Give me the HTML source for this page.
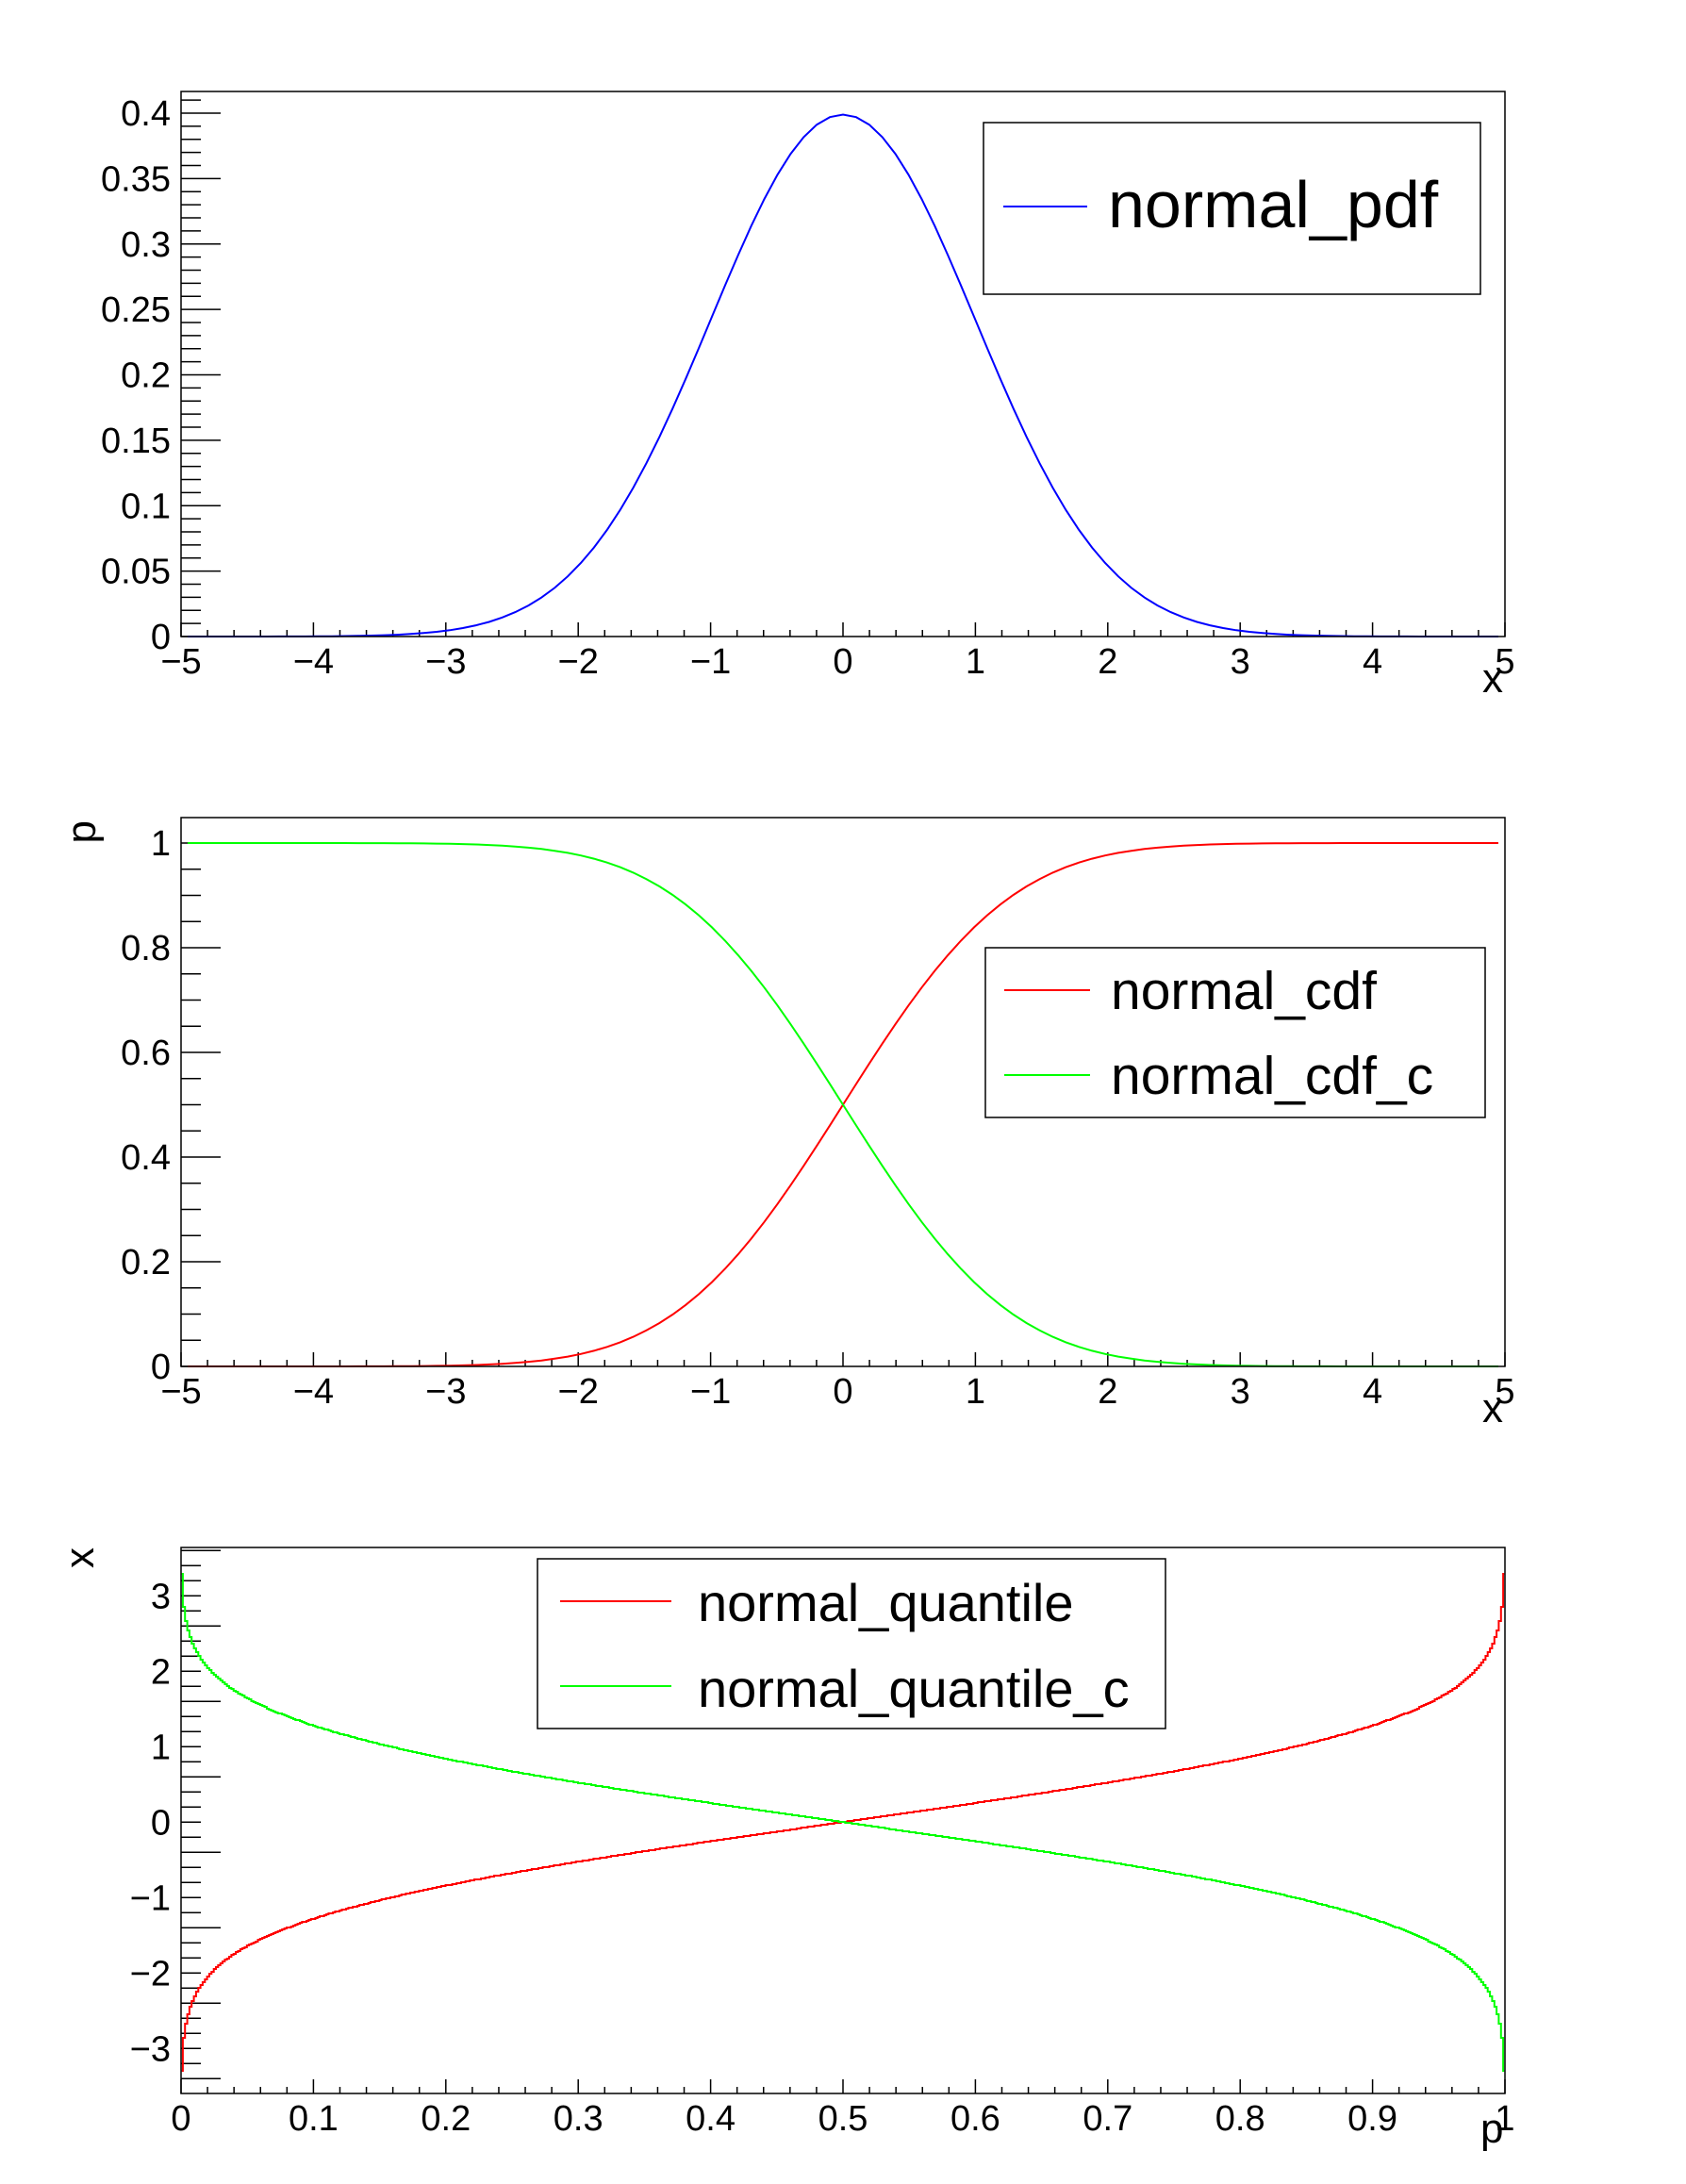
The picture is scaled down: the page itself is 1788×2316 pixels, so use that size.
<!DOCTYPE html>
<html><head><meta charset="utf-8">
<style>
html,body{margin:0;padding:0;background:#fff;}
svg{display:block;}
text{font-family:"Liberation Sans",Arial,sans-serif;fill:#000;}
</style></head>
<body>
<svg id="s" width="1788" height="2316" viewBox="0 0 1788 2316" xmlns="http://www.w3.org/2000/svg">
<rect width="1788" height="2316" fill="#fff"/>
<g id="g"></g>
<rect x="192" y="97" width="1404" height="578" fill="none" stroke="#000" stroke-width="1.5"/>
<rect x="192" y="867" width="1404" height="582" fill="none" stroke="#000" stroke-width="1.5"/>
<rect x="192" y="1641" width="1404" height="579" fill="none" stroke="#000" stroke-width="1.5"/>
<rect x="1043" y="130" width="527" height="182" fill="#fff" stroke="#000" stroke-width="1.5"/>
<line x1="1064" y1="219" x2="1153" y2="219" stroke="#0000ff" stroke-width="2"/>
<text x="1175" y="241" font-size="70">normal_pdf</text>

<rect x="1045" y="1005" width="530" height="180" fill="#fff" stroke="#000" stroke-width="1.5"/>
<line x1="1065" y1="1050" x2="1156" y2="1050" stroke="#ff0000" stroke-width="2"/>
<line x1="1065" y1="1140" x2="1156" y2="1140" stroke="#00ff00" stroke-width="2"/>
<text x="1178" y="1070" font-size="57">normal_cdf</text>
<text x="1178" y="1160" font-size="57">normal_cdf_c</text>

<rect x="570" y="1653" width="666" height="180" fill="#fff" stroke="#000" stroke-width="1.5"/>
<line x1="594" y1="1698" x2="712" y2="1698" stroke="#ff0000" stroke-width="2"/>
<line x1="594" y1="1788" x2="712" y2="1788" stroke="#00ff00" stroke-width="2"/>
<text x="740" y="1719" font-size="56">normal_quantile</text>
<text x="740" y="1810" font-size="56">normal_quantile_c</text>

<text x="1572" y="734" font-size="44">x</text>
<text x="1572" y="1508" font-size="44">x</text>
<text x="1570" y="2272" font-size="44">p</text>
<text transform="translate(101,870) rotate(-90)" font-size="44" text-anchor="end">p</text>
<text transform="translate(99,1641) rotate(-90)" font-size="44" text-anchor="end">x</text>
</svg>
<script>
(function(){
var g=document.getElementById('g'),NS='http://www.w3.org/2000/svg';
function el(t,a,txt){var e=document.createElementNS(NS,t);for(var k in a)e.setAttribute(k,a[k]);if(txt!==undefined)e.textContent=txt;g.appendChild(e);return e;}
function fmt(v){v=Math.round(v*1000)/1000;var s=String(Math.abs(v));return (v<0?'\u2212':'')+s;}
var X1=function(x){return 192+(x+5)*140.4;};
var X3=function(p){return 192+p*1404;};
function yaxis(Y,from,to,step,majEvery,labels){
  var n=Math.round((to-from)/step);
  for(var i=0;i<=n;i++){var v=from+i*step;var y=Y(v);var maj=(i%majEvery===0);
    el('line',{x1:192,y1:y,x2:192+(maj?42:21),y2:y,stroke:'#000','stroke-width':1.5});}
  labels.forEach(function(v){el('text',{x:181,y:Y(v)+13,'font-size':38,'text-anchor':'end'},fmt(v));});
}
function xaxis(X,yb,from,to,step,majEvery,labels){
  var n=Math.round((to-from)/step);
  for(var i=0;i<=n;i++){var v=from+i*step;var x=X(v);var maj=(i%majEvery===0);
    el('line',{x1:x,y1:yb,x2:x,y2:yb-(maj?15:7),stroke:'#000','stroke-width':1.5});}
  labels.forEach(function(v){el('text',{x:X(v),y:yb+39,'font-size':38,'text-anchor':'middle'},fmt(v));});
}
var Y1=function(v){return 675-v*1387.5;};
var l=[];for(var i=0;i<=8;i++)l.push(i*0.05);
yaxis(Y1,0,0.41,0.01,5,l);
var xl=[];for(i=-5;i<=5;i++)xl.push(i);
xaxis(X1,675,-5,5,0.2,5,xl);
var Y2=function(v){return 1449-v*555;};
yaxis(Y2,0,1,0.05,4,[0,0.2,0.4,0.6,0.8,1]);
xaxis(X1,1449,-5,5,0.2,5,xl);
var Y3=function(v){return 1932.3-v*80;};
yaxis(Y3,-3.4,3.6,0.2,5,[-3,-2,-1,0,1,2,3]);
var pl=[];for(i=0;i<=10;i++)pl.push(i/10);
xaxis(X3,2220,0,1,0.02,5,pl);
function erf(x){var s=x<0?-1:1;x=Math.abs(x);var t=1/(1+0.3275911*x);
 var y=1-(((((1.061405429*t-1.453152027)*t)+1.421413741)*t-0.284496736)*t+0.254829592)*t*Math.exp(-x*x);return s*y;}
function cdf(x){return 0.5*(1+erf(x/Math.SQRT2));}
function pdf(x){return Math.exp(-x*x/2)/Math.sqrt(2*Math.PI);}
function q(p){var a=-8,b=8;for(var k=0;k<60;k++){var m=(a+b)/2;if(cdf(m)<p)a=m;else b=m;}return (a+b)/2;}
var d1='',d2='',d3='';
for(i=0;i<=100;i++){var x=-4.95+i*0.099;
 d1+=(i?'L':'M')+X1(x).toFixed(1)+' '+Y1(pdf(x)).toFixed(1);
 var c=cdf(x);
 d2+=(i?'L':'M')+X1(x).toFixed(1)+' '+Y2(c).toFixed(1);
 d3+=(i?'L':'M')+X1(x).toFixed(1)+' '+Y2(1-c).toFixed(1);}
el('path',{d:d1,fill:'none',stroke:'#0000ff','stroke-width':2});
el('path',{d:d2,fill:'none',stroke:'#ff0000','stroke-width':2});
el('path',{d:d3,fill:'none',stroke:'#00ff00','stroke-width':2});
var N=600,w=0.999/(N-1),dr='',dg='';
for(i=0;i<N;i++){var p=0.0005+i*w;var v=q(p);var xa=X3(p-(i?w/2:0)),xb=X3(p+(i<N-1?w/2:0));
 var yr=Math.round(Y3(v)),yg=Math.round(Y3(-v));
 dr+=(i?'L':'M')+xa.toFixed(1)+' '+yr+'L'+xb.toFixed(1)+' '+yr;
 dg+=(i?'L':'M')+xa.toFixed(1)+' '+yg+'L'+xb.toFixed(1)+' '+yg;}
el('path',{d:dr,fill:'none',stroke:'#ff0000','stroke-width':2});
el('path',{d:dg,fill:'none',stroke:'#00ff00','stroke-width':2});
})();
</script>
</body></html>
